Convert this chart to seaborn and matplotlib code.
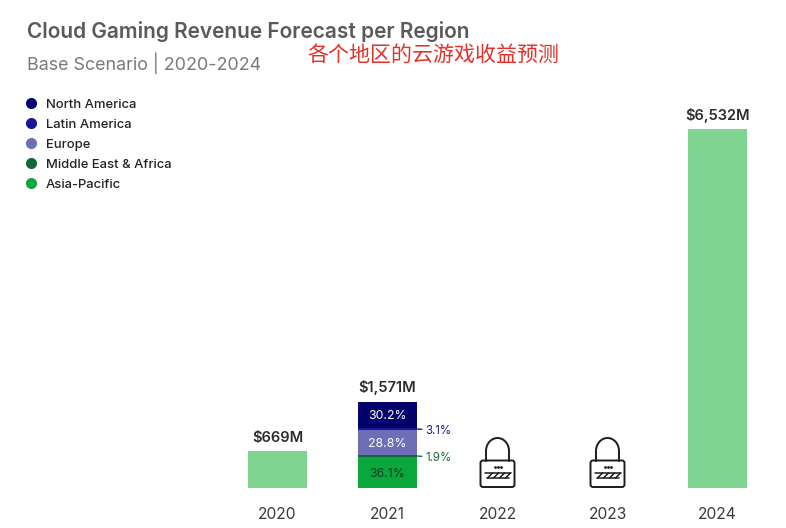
import matplotlib
matplotlib.use('Agg')
import matplotlib.pyplot as plt
from matplotlib.lines import Line2D
from matplotlib.patches import Arc, FancyBboxPatch
from matplotlib.transforms import Affine2D
import pandas as pd
import seaborn as sns

# data
years = ['2020', '2021', '2022', '2023', '2024']
totals = [669, 1571, None, None, 6532]
total_labels = ['$669M', '$1,571M', '', '', '$6,532M']
locked_years = ['2022', '2023']

regions = ['North America', 'Latin America', 'Europe', 'Middle East & Africa', 'Asia-Pacific']
shares_2021 = [30.2, 3.1, 28.8, 1.9, 36.1]
region_colors = ['#03036b', '#16169a', '#6e6eb6', '#12663a', '#0aa83c']
share_text_colors = ['white', None, 'white', None, '#123d1e']
side_label_colors = [None, '#1c1c8a', None, '#1a6b40', None]
bar_color = '#80d491'

sns.set_theme(style='white')
plt.rcParams['font.family'] = ['Inter', 'Noto Sans CJK SC', 'DejaVu Sans']

W, H = 786, 528
fig = plt.figure(figsize=(W / 100, H / 100), dpi=100, facecolor='white')
# axes placed so the bars land where they are in the picture
ax = fig.add_axes([222.5 / W, (H - 488) / H, 550 / W, 359 / H])

df = pd.DataFrame({'year': years, 'total': totals})
plain = df[df['year'] != '2021']
sns.barplot(data=plain, x='year', y='total', order=years, color=bar_color,
            saturation=1, width=0.545, linewidth=0, ax=ax)

# stacked 2021: largest cumulative first, the next one painted over it
total_2021 = totals[years.index('2021')]
remaining = sum(shares_2021)
stack_edges = []
for region, share, color in zip(regions, shares_2021, region_colors):
    height = remaining / sum(shares_2021) * total_2021
    sns.barplot(x=['2021'], y=[height], order=years, color=color,
                saturation=1, width=0.545, linewidth=0, ax=ax)
    remaining -= share
    low = remaining / sum(shares_2021) * total_2021
    stack_edges.append((low, height))

ax.set_xlim(-0.5, 4.5)
ax.set_ylim(0, totals[-1])
ax.set_xlabel('')
ax.set_ylabel('')
ax.set_yticks([])
ax.tick_params(axis='x', length=0, pad=13.5, labelsize=11.2, labelcolor='#3a3a3a')
sns.despine(ax=ax, left=True, bottom=True)
ax.patch.set_alpha(0)

# totals above bars
for i, (total, label) in enumerate(zip(totals, total_labels)):
    if total:
        ax.annotate(label, (i, total), xytext=(0, 4.5), textcoords='offset points',
                    ha='center', va='bottom', fontsize=10.5, fontweight='semibold',
                    color='#2b2b2b', clip_on=False)

# share labels, in the bar or beside it with a short tick
x_2021 = years.index('2021')
for share, (low, high), text_c, side_c in zip(shares_2021, stack_edges,
                                              share_text_colors, side_label_colors):
    mid = (low + high) / 2
    if text_c:
        ax.text(x_2021, mid, f'{share}%', ha='center', va='center_baseline', fontsize=8.8, color=text_c)
    else:
        ax.annotate(f'{share}%', (x_2021 + 0.2725, mid), xytext=(5.5, 0),
                    textcoords='offset points', ha='left', va='center_baseline',
                    fontsize=8.3, color=side_c, clip_on=False,
                    arrowprops=dict(arrowstyle='-', color=side_c, lw=1, shrinkA=0, shrinkB=0))


def draw_lock(year):
    # icon is in pixels, measured from the bottom middle of the slot
    cx, cy = ax.transData.transform((years.index(year), 0))
    tr = Affine2D().translate(cx, cy)
    c = '#1c1c1c'
    fig.add_artist(FancyBboxPatch((-17, 1), 34, 26.5, boxstyle='round,pad=0,rounding_size=2.5',
                                  fc='white', ec=c, lw=1.4, transform=tr))
    fig.add_artist(Line2D([-11.5, -11.5], [27.5, 37], color=c, lw=1.4, transform=tr))
    fig.add_artist(Line2D([11.5, 11.5], [27.5, 37], color=c, lw=1.4, transform=tr))
    fig.add_artist(Arc((0, 37), 23, 26, theta1=0, theta2=180, color=c, lw=1.4, transform=tr))
    fig.add_artist(Line2D([-11, 11], [10, 10], color=c, lw=1.1, transform=tr))
    fig.add_artist(Line2D([-13, 13], [15, 15], color=c, lw=1.1, transform=tr))
    for dx in (-3, 0, 3):
        fig.add_artist(Line2D([dx], [21.5], marker='o', ms=1, color=c, lw=0, transform=tr))
    for dx in (-10, -4, 2, 8):
        fig.add_artist(Line2D([dx, dx + 5], [10, 15], color=c, lw=1.1, transform=tr))


for year in locked_years:
    draw_lock(year)

# titles
fig.text(27 / W, 1 - 32 / H, 'Cloud Gaming Revenue Forecast per Region', fontsize=15,
         fontweight='semibold', color='#5a5a5a', va='center')
fig.text(27 / W, 1 - 63 / H, 'Base Scenario | 2020-2024', fontsize=12.9,
         color='#7a7a7a', va='center')
fig.text(307 / W, 1 - 55 / H, '各个地区的云游戏收益预测', fontsize=15.1,
         color='#e5302a', va='center', family=['Noto Sans CJK SC', 'DejaVu Sans'])

# legend
handles = [Line2D([], [], marker='o', ms=7, lw=0, color=c, label=r)
           for r, c in zip(regions, region_colors)]
leg = fig.legend(handles=handles, loc='upper left', bbox_to_anchor=(21 / W, 1 - 98.5 / H),
                 frameon=False, fontsize=9.4, labelspacing=0.6, handletextpad=0.3,
                 handlelength=1.6, borderaxespad=0, borderpad=0)
for t in leg.get_texts():
    t.set_color('#222222')
    t.set_fontweight('medium')

fig.savefig('out.png', dpi=100)
